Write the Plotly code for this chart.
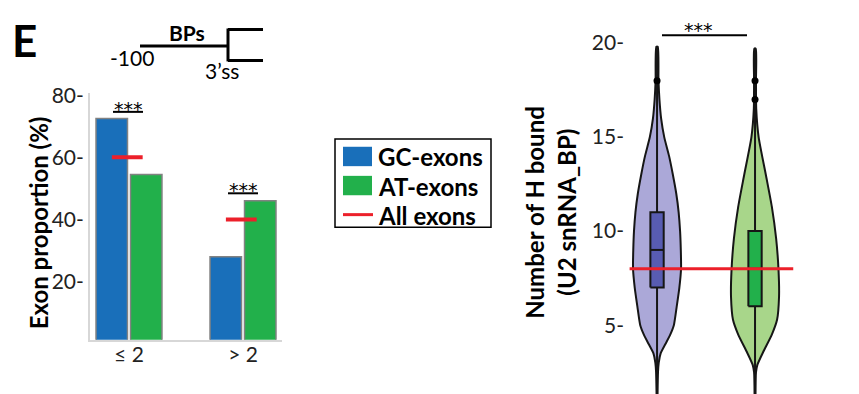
import plotly.graph_objects as go

# ---------------- data ----------------
groups = ["≤ 2", "> 2"]
gc_exons = [72.5, 28.0]          # % of GC-exons per BP-count class
at_exons = [54.5, 46.0]          # % of AT-exons per BP-count class
all_exons = [60.0, 40.0]         # % of all exons per BP-count class
bar_ticks = [20, 40, 60, 80]

violin_names = ["GC-exons", "AT-exons"]
# violin outlines: value levels and relative half-widths (0..1)
gc_levels = [1.3, 2.5, 3.0, 3.5, 4.0, 4.5, 5.0, 6.0, 7.0, 8.0, 9.0, 10.0, 11.0, 12.0, 13.0, 14.0, 15.0, 16.0, 17.0, 18.0, 19.8]
gc_width = [0.02, 0.04, 0.07, 0.15, 0.35, 0.55, 0.70, 0.82, 0.93, 1.0, 0.99, 0.96, 0.90, 0.80, 0.66, 0.50, 0.30, 0.17, 0.10, 0.06, 0.03]
at_levels = [1.3, 2.5, 2.9, 3.6, 4.5, 5.3, 6.5, 7.9, 9.6, 11.3, 13.0, 15.0, 16.5, 18.0, 19.7]
at_width = [0.02, 0.04, 0.10, 0.35, 0.70, 0.92, 1.0, 0.98, 0.88, 0.70, 0.45, 0.15, 0.05, 0.04, 0.03]
# box statistics (q1, median, q3, lower, upper)
gc_box = [7.0, 9.0, 11.0, 1.3, 19.8]
at_box = [6.0, 8.0, 10.0, 1.3, 19.7]
gc_outliers = [18]
at_outliers = [18, 17]
all_exons_median = 8.0
violin_ticks = [5, 10, 15, 20]

# ---------------- style ----------------
W, H = 859, 394
BLUE = "rgb(25,111,186)"
GREEN = "rgb(34,176,75)"
RED = "rgb(236,32,42)"
PURPLE_FILL = "rgb(171,168,216)"
PURPLE_BOX = "rgb(88,92,178)"
GREEN_FILL = "rgb(168,214,138)"
EDGE = "rgb(22,22,22)"
FONT = "Lato"
STAR_FONT = "DejaVu Sans"


def px(x):
    return x / W


def py(y):
    return 1 - y / H


fig = go.Figure()

# ---------------- bar panel ----------------
gx = list(range(len(groups)))
fig.add_trace(go.Bar(x=gx, y=gc_exons, name="GC-exons", marker=dict(color=BLUE, line=dict(color="rgb(130,130,130)", width=1.5)),
                     xaxis="x", yaxis="y", showlegend=False))
fig.add_trace(go.Bar(x=gx, y=at_exons, name="AT-exons", marker=dict(color=GREEN, line=dict(color="rgb(130,130,130)", width=1.5)),
                     xaxis="x", yaxis="y", showlegend=False))
for g, v in zip(gx, all_exons):
    fig.add_trace(go.Scatter(x=[g - 0.15, g + 0.12], y=[v, v], mode="lines", line=dict(color=RED, width=4),
                             xaxis="x", yaxis="y", showlegend=False, hoverinfo="skip"))

# ---------------- violin panel ----------------
def violin_outline(center, levels, widths, half):
    xs = [center + w * half for w in widths] + [center - w * half for w in reversed(widths)]
    ys = list(levels) + list(reversed(levels))
    return xs, ys


def add_line(xs, ys, color, width):
    fig.add_trace(go.Scatter(x=xs, y=ys, mode="lines", line=dict(color=color, width=width),
                             xaxis="x2", yaxis="y2", showlegend=False, hoverinfo="skip"))


BOX_HALF = 0.068
for i, (lv, wd, fill, st, bcol) in enumerate([(gc_levels, gc_width, PURPLE_FILL, gc_box, PURPLE_BOX),
                                               (at_levels, at_width, GREEN_FILL, at_box, GREEN)]):
    # density outline
    xs, ys = violin_outline(i, lv, wd, 0.245)
    fig.add_trace(go.Scatter(x=xs, y=ys, mode="lines", fill="toself", fillcolor=fill,
                             line=dict(color=EDGE, width=2, shape="spline", smoothing=0.6),
                             xaxis="x2", yaxis="y2", showlegend=False, hoverinfo="skip", name=violin_names[i]))
    q1, med, q3, lo, hi = st
    # whisker through the full range
    add_line([i, i], [lo, hi], EDGE, 2)
    # inter-quartile box
    fig.add_trace(go.Scatter(x=[i - BOX_HALF, i + BOX_HALF, i + BOX_HALF, i - BOX_HALF, i - BOX_HALF],
                             y=[q1, q1, q3, q3, q1], mode="lines", fill="toself", fillcolor=bcol,
                             line=dict(color=EDGE, width=2), xaxis="x2", yaxis="y2", showlegend=False,
                             hoverinfo="skip", name=violin_names[i]))
    # median
    add_line([i - BOX_HALF, i + BOX_HALF], [med, med], EDGE, 2)

add_line([-0.28, 1.39], [all_exons_median] * 2, RED, 3)
fig.add_trace(go.Scatter(x=[0] * len(gc_outliers) + [1] * len(at_outliers), y=gc_outliers + at_outliers, mode="markers",
                         marker=dict(color="black", size=7), xaxis="x2", yaxis="y2", showlegend=False))

# ---------------- axes ----------------
fig.update_layout(
    width=W, height=H, margin=dict(l=0, r=0, t=0, b=0),
    paper_bgcolor="white", plot_bgcolor="white",
    barmode="group", bargap=0.395, bargroupgap=0.087,
    font=dict(family=FONT, color="black"),
    xaxis=dict(domain=[px(90), px(282)], range=[-0.342, 1.342], tickmode="array", tickvals=gx, ticktext=groups,
               tickfont=dict(size=21, color="#222"), showgrid=False, zeroline=False, showline=True,
               linecolor="rgb(215,215,215)", linewidth=2, ticks="", ticklabelstandoff=-5),
    yaxis=dict(domain=[py(338), py(84)], range=[1.25, 80.6], tickmode="array", tickvals=bar_ticks,
               ticktext=[f"{t}-" for t in bar_ticks], tickfont=dict(size=21, color="#222"), showgrid=False,
               zeroline=False, showline=True, linecolor="rgb(215,215,215)", linewidth=2, ticks="",
               ticklabelstandoff=0),
    xaxis2=dict(domain=[px(625), px(800)], range=[-0.327, 1.459], showgrid=False, zeroline=False,
                showticklabels=False, showline=False, ticks=""),
    yaxis2=dict(domain=[0, 1], range=[1.34, 21.65], anchor="x2", tickmode="array", tickvals=violin_ticks,
                ticktext=[f"{t}-" for t in violin_ticks], tickfont=dict(size=21, color="#222"), showgrid=False,
                zeroline=False, showline=False, ticks="", ticklabelstandoff=0),
)

# ---------------- annotations & shapes ----------------
shapes = []
ann = []


def text(x, y, s, size, bold=False, xanchor="center", angle=0, color="black", family=FONT):
    ann.append(dict(x=px(x), y=py(y), xref="paper", yref="paper", text=f"<b>{s}</b>" if bold else s,
                    showarrow=False, xanchor=xanchor, yanchor="middle", textangle=angle,
                    font=dict(family=family, size=size, color=color)))


def line(x0, y0, x1, y1, color="black", width=3):
    shapes.append(dict(type="line", xref="paper", yref="paper", x0=px(x0), y0=py(y0), x1=px(x1), y1=py(y1),
                       line=dict(color=color, width=width)))


def rect(x0, y0, x1, y1, fill, lc="black", lw=0):
    shapes.append(dict(type="rect", xref="paper", yref="paper", x0=px(x0), y0=py(y0), x1=px(x1), y1=py(y1),
                       fillcolor=fill, line=dict(color=lc, width=lw)))


# panel letter and BP region sketch
text(24, 29, "E", 44, bold=True)
line(140, 35, 228, 35)
line(228, 17, 228, 51)
line(228, 18, 263, 18)
line(228, 50, 263, 50)
text(187, 21, "BPs", 21, bold=True)
text(132, 47, "-100", 21)
text(222, 60, "3’ss", 21)

# axis titles
text(38, 218, "Exon proportion (%)", 24, bold=True, angle=-90)
text(535, 207, "Number of H bound", 24, bold=True, angle=-90)
text(567, 207, "(U2 snRNA_BP)", 24, bold=True, angle=-90)

# significance marks
text(128, 100, "***", 19, family=STAR_FONT)
line(113, 103, 143, 103, width=2)
text(243, 184, "***", 19, family=STAR_FONT)
line(228, 187, 258, 187, width=2)
text(698, 19, "***", 19, family=STAR_FONT)
line(662, 24, 747, 24, width=2)

# legend
rect(335, 131, 491, 222, "white", "black", 1.5)
rect(343, 139, 372, 159, BLUE)
rect(343, 169, 372, 189, GREEN)
line(343, 209, 373, 209, color=RED, width=3)
text(376, 149, "GC-exons", 24, bold=True, xanchor="left")
text(376, 180, "AT-exons", 24, bold=True, xanchor="left")
text(376, 210, "All exons", 24, bold=True, xanchor="left")

fig.update_layout(shapes=shapes, annotations=ann)
fig.write_html("out.html")
